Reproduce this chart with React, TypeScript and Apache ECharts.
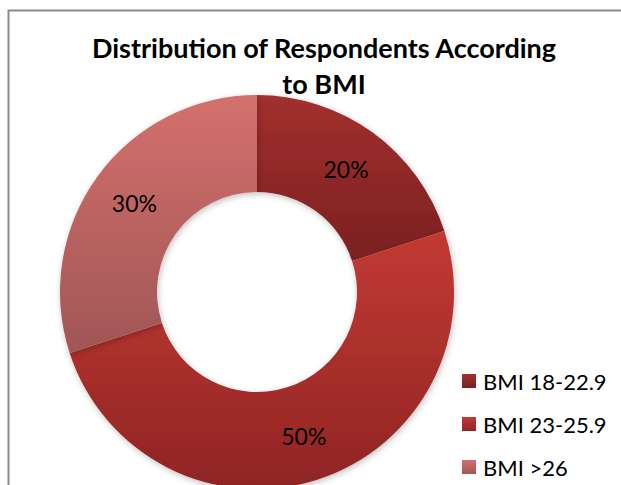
import React, { useEffect, useRef } from "react";
import * as echarts from "echarts";

const titleText = "Distribution of Respondents According\nto BMI";
const categories = ["BMI 18-22.9", "BMI 23-25.9", "BMI >26"];
const values = [20, 50, 30];
const colorTops = ["#a3302e", "#c33a33", "#d4706d"];
const colorBottoms = ["#7a2020", "#8f2424", "#a05656"];

const FONT = "Lato, 'Open Sans', sans-serif";

export default function App() {
  const ref = useRef<HTMLDivElement>(null);
  useEffect(() => {
    if (!ref.current) return;
    const chart = echarts.init(ref.current, null, { renderer: "svg" });
    const grad = (i: number) =>
      new echarts.graphic.LinearGradient(0, 0, 0, 1, [
        { offset: 0, color: colorTops[i] },
        { offset: 1, color: colorBottoms[i] },
      ]);
    chart.setOption({
      animation: false,
      backgroundColor: "#ffffff",
      title: {
        text: titleText,
        left: 319,
        textAlign: "center",
        top: 24,
        textStyle: {
          fontFamily: FONT,
          fontWeight: "bold",
          fontSize: 27,
          lineHeight: 36,
          color: "#000000",
        },
      },
      graphic: [
        {
          type: "polyline",
          shape: { points: [[8.5, 490], [8.5, 10.5], [630, 10.5]] },
          style: { stroke: "#8a8a8a", lineWidth: 2, fill: "none" },
          z: 10,
        },
      ],
      legend: {
        orient: "vertical",
        left: 462,
        top: 370,
        height: 115,
        padding: 0,
        itemWidth: 14,
        itemHeight: 14,
        itemGap: 21,
        icon: "rect",
        data: categories,
        textStyle: { fontFamily: FONT, fontSize: 22, lineHeight: 22, color: "#000000", padding: [0, 0, 0, 2] },
      },
      series: [
        {
          type: "pie",
          center: [257, 292],
          radius: [100, 197],
          startAngle: 90,
          clockwise: true,
          avoidLabelOverlap: false,
          label: {
            show: true,
            position: "inside",
            formatter: "{c}%",
            fontFamily: FONT,
            fontSize: 23,
            color: "#000000",
          },
          labelLine: { show: false },
          itemStyle: {
            shadowBlur: 6,
            shadowColor: "rgba(0,0,0,0.25)",
            shadowOffsetX: 1,
            shadowOffsetY: 2,
          },
          emphasis: { disabled: true },
          data: categories.map((name, i) => ({
            name,
            value: values[i],
            itemStyle: { color: grad(i) },
          })),
        },
      ],
    });
    return () => chart.dispose();
  }, []);
  return (
    <div
      ref={ref}
      style={{ position: "fixed", left: 0, top: 0, width: 621, height: 485 }}
    />
  );
}
